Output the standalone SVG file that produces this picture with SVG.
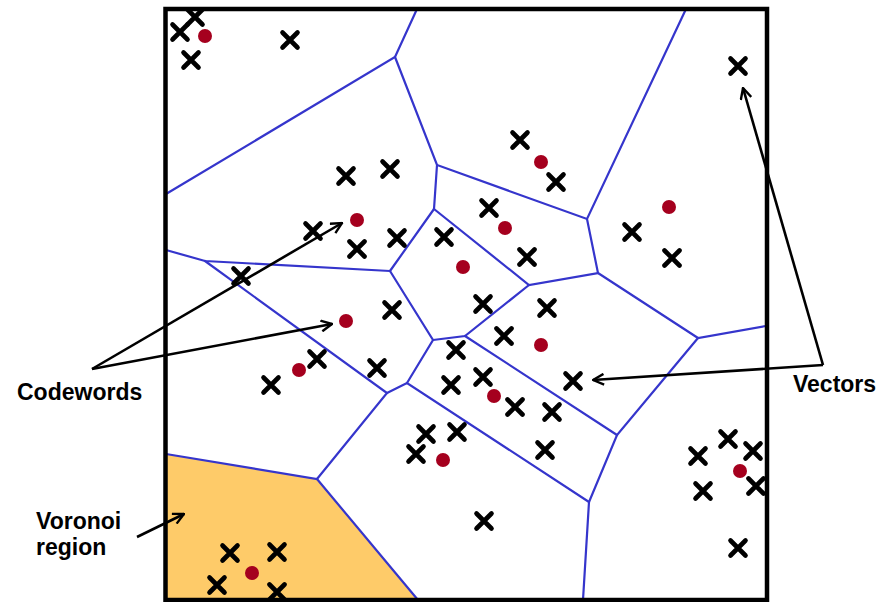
<svg xmlns="http://www.w3.org/2000/svg" width="889" height="602" viewBox="0 0 889 602">
<style>
.edge{stroke:#3535CC;stroke-width:2.2;fill:none;stroke-linecap:round}
.x{stroke:#000;stroke-width:4.6;stroke-linecap:round;fill:none}
.cw{fill:#A5001E}
.arr{stroke:#000;stroke-width:2.6;fill:none}
.lbl{font-family:"Liberation Sans",Arial,sans-serif;font-weight:bold;font-size:23px;fill:#000}
</style>
<defs>
<marker id="ah" viewBox="0 0 12 12" refX="11" refY="6" markerWidth="13" markerHeight="13" markerUnits="userSpaceOnUse" orient="auto">
<path d="M1,1 L11,6 L1,11" fill="none" stroke="#000" stroke-width="2.2"/>
</marker>
<path id="xm" d="M-7.5,-7.5 L7.5,7.5 M-7.5,7.5 L7.5,-7.5"/>
</defs>
<rect width="889" height="602" fill="#fff"/>
<g id="region">
<polygon points="166,454 317,479 418,600 166,600" fill="#FECB69"/>
</g>
<g id="connectors">
<g id="voronoi-edges">
<polyline class="edge" points="166,194 395,57 417,9"/>
<polyline class="edge" points="395,57 437,165 587,219 686,9"/>
<polyline class="edge" points="437,165 434,209 390,271"/>
<polyline class="edge" points="434,209 529,285 598,273 587,219"/>
<polyline class="edge" points="598,273 698,338 766,326"/>
<polyline class="edge" points="698,338 617,435 589,502 583,600"/>
<polyline class="edge" points="589,502 407,383 387,393"/>
<polyline class="edge" points="407,383 433,340 390,271"/>
<polyline class="edge" points="433,340 465,336 529,285"/>
<polyline class="edge" points="465,336 617,435"/>
<polyline class="edge" points="390,271 205,261 166,250"/>
<polyline class="edge" points="205,261 387,393 317,479 166,454"/>
<polyline class="edge" points="317,479 418,600"/>
</g>
</g>
<g id="frame">
<rect x="165.5" y="9" width="601.5" height="591" fill="none" stroke="#000" stroke-width="4.5"/>
</g>
<g id="vectors">
<use href="#xm" class="x" x="180" y="32"/>
<use href="#xm" class="x" x="195" y="17"/>
<use href="#xm" class="x" x="191" y="60"/>
<use href="#xm" class="x" x="290" y="40"/>
<use href="#xm" class="x" x="346" y="176"/>
<use href="#xm" class="x" x="390" y="169"/>
<use href="#xm" class="x" x="738" y="66"/>
<use href="#xm" class="x" x="520" y="140"/>
<use href="#xm" class="x" x="556" y="182"/>
<use href="#xm" class="x" x="313" y="231"/>
<use href="#xm" class="x" x="357" y="249"/>
<use href="#xm" class="x" x="397" y="238"/>
<use href="#xm" class="x" x="241" y="276"/>
<use href="#xm" class="x" x="392" y="310"/>
<use href="#xm" class="x" x="317" y="359"/>
<use href="#xm" class="x" x="271" y="385"/>
<use href="#xm" class="x" x="377" y="368"/>
<use href="#xm" class="x" x="489" y="208"/>
<use href="#xm" class="x" x="444" y="237"/>
<use href="#xm" class="x" x="527" y="257"/>
<use href="#xm" class="x" x="632" y="232"/>
<use href="#xm" class="x" x="672" y="258"/>
<use href="#xm" class="x" x="483" y="304"/>
<use href="#xm" class="x" x="547" y="308"/>
<use href="#xm" class="x" x="504" y="336"/>
<use href="#xm" class="x" x="456" y="350"/>
<use href="#xm" class="x" x="483" y="377"/>
<use href="#xm" class="x" x="451" y="385"/>
<use href="#xm" class="x" x="573" y="381"/>
<use href="#xm" class="x" x="515" y="407"/>
<use href="#xm" class="x" x="552" y="412"/>
<use href="#xm" class="x" x="426" y="434"/>
<use href="#xm" class="x" x="457" y="432"/>
<use href="#xm" class="x" x="416" y="454"/>
<use href="#xm" class="x" x="545" y="450"/>
<use href="#xm" class="x" x="484" y="521"/>
<use href="#xm" class="x" x="728" y="439"/>
<use href="#xm" class="x" x="698" y="456"/>
<use href="#xm" class="x" x="753" y="451"/>
<use href="#xm" class="x" x="756" y="486"/>
<use href="#xm" class="x" x="703" y="491"/>
<use href="#xm" class="x" x="738" y="548"/>
<use href="#xm" class="x" x="230" y="553"/>
<use href="#xm" class="x" x="277" y="552"/>
<use href="#xm" class="x" x="217" y="585"/>
<use href="#xm" class="x" x="277" y="592"/>
</g>
<g id="codewords">
<circle class="cw" cx="205" cy="36" r="7"/>
<circle class="cw" cx="541" cy="162" r="7"/>
<circle class="cw" cx="357" cy="220" r="7"/>
<circle class="cw" cx="346" cy="321" r="7"/>
<circle class="cw" cx="299" cy="370" r="7"/>
<circle class="cw" cx="505" cy="228" r="7"/>
<circle class="cw" cx="463" cy="267" r="7"/>
<circle class="cw" cx="669" cy="207" r="7"/>
<circle class="cw" cx="541" cy="345" r="7"/>
<circle class="cw" cx="494" cy="396" r="7"/>
<circle class="cw" cx="443" cy="460" r="7"/>
<circle class="cw" cx="740" cy="471" r="7"/>
<circle class="cw" cx="252" cy="573" r="7"/>
</g>
<g id="annotation-arrows">
<line class="arr" x1="92" y1="369" x2="342" y2="223" marker-end="url(#ah)"/>
<line class="arr" x1="92" y1="369" x2="332" y2="324" marker-end="url(#ah)"/>
<line class="arr" x1="823" y1="365" x2="743" y2="88" marker-end="url(#ah)"/>
<line class="arr" x1="823" y1="365" x2="593" y2="380" marker-end="url(#ah)"/>
<line class="arr" x1="137" y1="537" x2="184" y2="514" marker-end="url(#ah)"/>
</g>
<g id="labels">
<text class="lbl" x="17" y="400">Codewords</text>
<text class="lbl" x="793" y="392">Vectors</text>
<text class="lbl" x="36" y="529">Voronoi</text>
<text class="lbl" x="36" y="555">region</text>
</g>
</svg>
